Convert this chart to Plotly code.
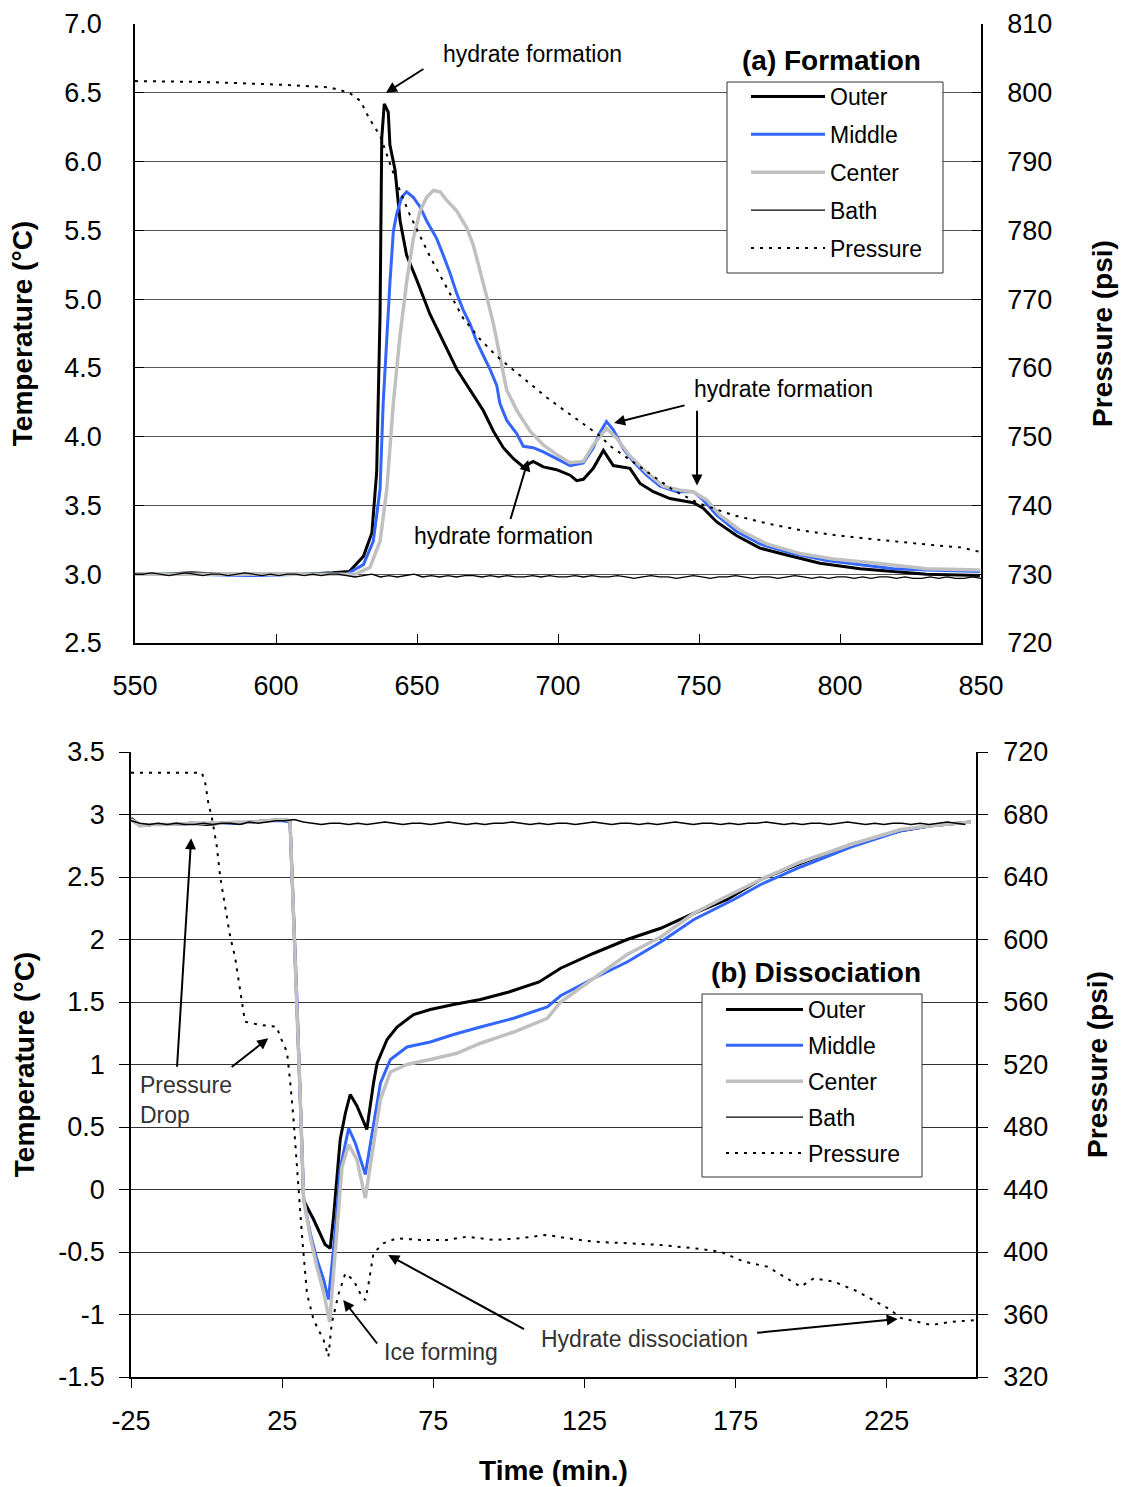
import plotly.graph_objects as go

# ---------------- (a) Formation data ----------------
outer_top_time = [550, 560, 570, 580, 590, 600, 610, 620, 626, 631, 634, 635.7, 636.9, 637.5, 638.4,
                  639.8, 640.4, 642.2, 644, 646.3, 649.9, 654.6, 660.5, 664.1, 668.8, 673.5, 677.1,
                  680.6, 684.2, 687.7, 691.2, 694.8, 699.5, 704.3, 706.6, 709, 712.5, 716.1, 719.6,
                  725.5, 729.1, 733.8, 739.7, 748, 751.5, 756.3, 763.4, 771.6, 781.1, 792.9, 807.1,
                  818.9, 830.7, 849.6]
outer_top_temp = [3.0, 3.0, 3.01, 3.0, 3.0, 3.0, 3.0, 3.01, 3.02, 3.13, 3.30, 3.74, 4.89, 6.17, 6.42,
                  6.36, 6.12, 5.94, 5.57, 5.32, 5.14, 4.89, 4.64, 4.49, 4.34, 4.19, 4.04,
                  3.92, 3.84, 3.78, 3.82, 3.78, 3.76, 3.72, 3.68, 3.69, 3.77, 3.90, 3.79,
                  3.77, 3.66, 3.60, 3.55, 3.52, 3.48, 3.38, 3.28, 3.19, 3.14, 3.08, 3.04,
                  3.02, 3.0, 2.99]

middle_top_time = [550, 570, 590, 610, 625, 631, 634.5, 636.9, 638, 639.3, 640.4, 641.6, 642.8, 644.6,
                   646.3, 648.7, 651.1, 653.4, 657, 659.3, 661.7, 664.1, 666.4, 668.8, 671.2, 673.5,
                   675.9, 678.3, 679.4, 681.8, 685.4, 687.7, 691.2, 694.8, 699.5, 704.3, 709, 712.5,
                   714.9, 717.2, 719.6, 723.2, 726.7, 731.4, 736.2, 742.1, 748, 751.5, 756.3, 763.4,
                   771.6, 783.4, 795.3, 807.1, 818.9, 830.7, 849.6]
middle_top_temp = [3.0, 3.0, 2.99, 3.0, 3.0, 3.07, 3.24, 3.62, 4.24, 4.74, 5.12, 5.49, 5.62, 5.74,
                   5.78, 5.74, 5.67, 5.57, 5.44, 5.32, 5.19, 5.04, 4.92, 4.82, 4.69, 4.59,
                   4.49, 4.37, 4.24, 4.12, 4.02, 3.93, 3.92, 3.89, 3.84, 3.79, 3.81, 3.92,
                   4.03, 4.11, 4.05, 3.91, 3.82, 3.72, 3.64, 3.60, 3.60, 3.54, 3.43, 3.31,
                   3.22, 3.15, 3.10, 3.07, 3.04, 3.03, 3.02]

center_top_time = [550, 570, 590, 610, 628, 633.3, 636.9, 639.3, 641.6, 644, 646.3, 648.7, 651.1, 653.4,
                   655.8, 658.2, 660.5, 664.1, 667.6, 670, 672.3, 674.7, 677.1, 679.4, 681.8, 685.4,
                   690.1, 694.8, 699.5, 704.3, 709, 712.5, 716.1, 717.2, 720.8, 725.5, 731.4, 737.3,
                   743.3, 748, 752.7, 757.4, 764.5, 774, 785.8, 797.6, 813, 830.7, 849.6]
center_top_temp = [3.0, 3.0, 3.0, 3.0, 3.0, 3.05, 3.24, 3.62, 4.24, 4.74, 5.12, 5.44, 5.64, 5.74,
                   5.79, 5.78, 5.72, 5.64, 5.52, 5.39, 5.22, 5.02, 4.82, 4.59, 4.34, 4.19,
                   4.04, 3.94, 3.87, 3.81, 3.82, 3.94, 4.04, 4.06, 3.99, 3.86, 3.74, 3.64,
                   3.61, 3.60, 3.54, 3.43, 3.32, 3.22, 3.15, 3.11, 3.08, 3.04, 3.03]

bath_top_temp = [3.00, 3.00, 3.01, 3.00, 2.99, 3.00, 3.01, 3.00, 2.99, 3.00, 3.00, 2.99, 3.00, 3.01,
                 3.00, 2.99, 3.00, 2.99, 3.00, 3.00, 2.99, 3.00, 2.99, 3.00, 3.00, 2.99, 2.98, 2.99,
                 3.00, 2.98, 2.99, 2.98, 2.99, 3.00, 2.98, 2.99, 2.98, 2.99, 2.98, 2.99, 2.99, 2.98,
                 2.99, 2.98, 2.99, 2.98, 2.98, 2.99, 2.98, 2.99, 2.98, 2.98, 2.99, 2.98, 2.99, 2.98,
                 2.98, 2.99, 2.98, 2.97, 2.98, 2.99, 2.98, 2.98, 2.97, 2.98, 2.99, 2.98, 2.97, 2.98,
                 2.98, 2.99, 2.98, 2.97, 2.98, 2.98, 2.97, 2.98, 2.99, 2.98, 2.97, 2.98, 2.97, 2.98,
                 2.98, 2.97, 2.98, 2.97, 2.98, 2.98, 2.97, 2.98, 2.97, 2.97, 2.98, 2.97, 2.98, 2.97,
                 2.97, 2.98, 2.97]
bath_top_time = [550 + 3 * i for i in range(len(bath_top_temp))]

press_top_time = [550, 560, 570, 580, 590, 600, 610, 619, 626, 630, 633, 637, 640.4, 644, 647.5, 651,
                  654.6, 660.5, 666.4, 672.3, 678.3, 684.2, 690, 696, 702, 708, 714, 719, 724, 734,
                  741, 750, 762, 774, 786, 798, 809, 821, 834, 843, 850]
press_top_psi = [801.7, 801.7, 801.6, 801.5, 801.4, 801.2, 801.0, 800.8, 800.0, 798.8, 796.3, 793.7,
                 789.7, 785.7, 782.2, 779.2, 776.2, 771.7, 767.2, 764.2, 761.7, 759.7, 757.7, 755.7,
                 753.9, 752.2, 750.4, 748.5, 747.1, 744.2, 742.2, 740.3, 738.6, 737.4, 736.4, 735.7,
                 735.2, 734.7, 734.2, 733.9, 733.2]

# ---------------- (b) Dissociation data ----------------
outer_bot_time = [-25, -22, -18, -12, -5, 0, 5, 10, 15, 20, 22, 25, 27.6, 29.9, 31.0, 32.1, 32.6,
                  35.4, 37.6, 39.2, 40.9, 42.0, 44.2, 45.9, 47.5, 49.7, 52.5, 53.0, 55.2, 56.4, 59.7,
                  63.0, 68.5, 74.0, 81.7, 90.6, 100, 110, 117.1, 128.1, 139.1, 150.2, 161.2, 172.2,
                  183.3, 196.5, 213.1, 229.6, 239.6, 252.8]
outer_bot_temp = [2.97, 2.91, 2.92, 2.92, 2.93, 2.92, 2.93, 2.93, 2.94, 2.95, 2.96, 2.96, 2.95, 1.52,
                  0.72, -0.08, -0.11, -0.24, -0.35, -0.44, -0.47, -0.22, 0.40, 0.61, 0.76, 0.67,
                  0.51, 0.48, 0.85, 1.01, 1.20, 1.30, 1.40, 1.44, 1.48, 1.52, 1.58, 1.66, 1.77,
                  1.89, 2.00, 2.09, 2.21, 2.32, 2.48, 2.61, 2.76, 2.87, 2.91, 2.94]

middle_bot_time = [-25, -22, -18, -12, -5, 0, 5, 10, 15, 20, 25, 27.6, 29.9, 31.0, 32.1, 34.3, 36.5,
                   38.7, 40.3, 42.5, 44.2, 47.0, 49.2, 52.5, 55.2, 57.5, 60.8, 66.3, 74.0, 81.7,
                   90.6, 101.6, 112.7, 117.1, 128.1, 139.1, 150.2, 161.2, 174.4, 183.3, 196.5,
                   213.1, 229.6, 239.6, 252.8]
middle_bot_temp = [2.96, 2.91, 2.92, 2.92, 2.93, 2.93, 2.93, 2.93, 2.94, 2.95, 2.95, 2.94, 1.52,
                   0.72, -0.08, -0.35, -0.56, -0.72, -0.88, -0.35, 0.17, 0.49, 0.37, 0.12, 0.50,
                   0.85, 1.04, 1.14, 1.18, 1.24, 1.30, 1.37, 1.46, 1.55, 1.69, 1.82, 1.98, 2.16,
                   2.32, 2.44, 2.58, 2.74, 2.87, 2.91, 2.94]

center_bot_time = [-25, -22, -18, -12, -5, 0, 5, 10, 15, 20, 25, 27.6, 29.9, 31.0, 32.1, 34.3, 36.5,
                   38.7, 40.7, 43.1, 44.8, 47.0, 49.7, 52.5, 54.7, 57.5, 60.8, 66.3, 74.0, 82.8,
                   90.6, 101.6, 112.7, 117.1, 128.1, 139.1, 150.2, 161.2, 170.0, 183.3, 196.5,
                   213.1, 229.6, 239.6, 252.8]
center_bot_temp = [2.96, 2.91, 2.92, 2.92, 2.93, 2.93, 2.93, 2.94, 2.94, 2.95, 2.96, 2.95, 1.52,
                   0.72, -0.08, -0.38, -0.62, -0.82, -1.06, -0.35, 0.18, 0.36, 0.24, -0.07, 0.26,
                   0.72, 0.94, 1.00, 1.04, 1.09, 1.17, 1.26, 1.37, 1.50, 1.69, 1.88, 2.02, 2.21,
                   2.32, 2.48, 2.62, 2.76, 2.88, 2.91, 2.94]

bath_bot_temp = [2.95, 2.93, 2.92, 2.93, 2.92, 2.93, 2.92, 2.92, 2.93, 2.92, 2.93, 2.93, 2.92, 2.94,
                 2.93, 2.94, 2.95, 2.95, 2.96, 2.94, 2.93, 2.92, 2.93, 2.93, 2.92, 2.93, 2.92, 2.93,
                 2.94, 2.93, 2.92, 2.93, 2.93, 2.92, 2.93, 2.94, 2.93, 2.92, 2.93, 2.92, 2.93, 2.93,
                 2.94, 2.93, 2.92, 2.93, 2.92, 2.93, 2.93, 2.92, 2.93, 2.94, 2.93, 2.92, 2.93, 2.93,
                 2.92, 2.93, 2.92, 2.93, 2.94, 2.93, 2.92, 2.93, 2.93, 2.92, 2.93, 2.92, 2.93, 2.93,
                 2.94, 2.93, 2.92, 2.93, 2.92, 2.93, 2.93, 2.92, 2.93, 2.94, 2.93, 2.92, 2.93, 2.92,
                 2.93, 2.93, 2.92, 2.93, 2.92, 2.93, 2.94, 2.93, 2.92]
bath_bot_time = [-25 + 3 * i for i in range(len(bath_bot_temp))]

press_bot_time = [-25, -15, -5, -1.6, -0.5, 0.6, 1.7, 3.4, 4.5, 6.1, 7.8, 9.4, 10.5, 11.6, 12.7, 17.7,
                  23.2, 24.3, 25.5, 26.6, 27.6, 28.7, 29.9, 31.5, 33.2, 35.4, 38.7, 40.3, 41.4, 43.7,
                  45.9, 48.6, 51.4, 52.5, 53.6, 55.2, 58.5, 63.0, 70.7, 79.5, 86.1, 95.0, 103.8,
                  112.7, 119.3, 128.1, 139.1, 150.2, 161.2, 170.0, 177.8, 185.5, 196.5, 200.9,
                  207.5, 214.2, 218.6, 226.3, 229.6, 239.6, 246.2, 254.5]
press_bot_psi = [706.8, 706.8, 706.8, 706.8, 701.0, 687.0, 678.6, 659.4, 640.2, 621.0, 601.8, 589.0,
                 574.1, 559.2, 547.4, 545.3, 544.2, 538.0, 533.0, 528.0, 510.0, 486.6, 454.6, 412.0,
                 373.5, 356.5, 343.7, 333.0, 354.4, 373.5, 386.3, 382.0, 371.3, 369.3, 380.0, 399.2,
                 405.6, 408.8, 407.7, 407.7, 409.8, 407.7, 408.8, 411.0, 408.8, 406.6, 405.6, 404.5,
                 402.4, 400.2, 393.8, 390.6, 377.8, 383.2, 381.0, 375.7, 371.3, 362.9, 357.8, 353.3,
                 355.2, 356.5]

series_names = ["Outer", "Middle", "Center", "Bath", "Pressure"]
top_ticks = [550, 600, 650, 700, 750, 800, 850]
bot_ticks = [-25, 25, 75, 125, 175, 225]
bot_tick_text = ["-25", "25", "75", "125", "175", "225"]
bot_temp_ticks = [3.5, 3.0, 2.5, 2.0, 1.5, 1.0, 0.5, 0.0, -0.5, -1.0, -1.5]
bot_temp_text = ["3.5", "3", "2.5", "2", "1.5", "1", "0.5", "0", "-0.5", "-1", "-1.5"]

# ---------------- styles ----------------
W, H = 1122, 1487
FONT = "Liberation Sans, Arial, sans-serif"
BLACK = "#000000"
BLUE = "#3366ff"
GRAY = "#c0c0c0"
styles = {
    "Outer": dict(color=BLACK, width=3),
    "Middle": dict(color=BLUE, width=3),
    "Center": dict(color=GRAY, width=3.5),
    "Bath": dict(color=BLACK, width=1.3),
    "Pressure": dict(color=BLACK, width=2, dash="3px,6px"),
}

fig = go.Figure()

top_sets = [
    ("Outer", outer_top_time, outer_top_temp, "y"),
    ("Middle", middle_top_time, middle_top_temp, "y"),
    ("Center", center_top_time, center_top_temp, "y"),
    ("Bath", bath_top_time, bath_top_temp, "y"),
    ("Pressure", press_top_time, press_top_psi, "y2"),
]
for name, xs, ys, yax in top_sets:
    fig.add_trace(go.Scatter(x=xs, y=ys, name=name, mode="lines", line=styles[name],
                             xaxis="x", yaxis=yax, legend="legend", legendgroup="a" + name))

bot_sets = [
    ("Outer", outer_bot_time, outer_bot_temp, "y3"),
    ("Middle", middle_bot_time, middle_bot_temp, "y3"),
    ("Center", center_bot_time, center_bot_temp, "y3"),
    ("Bath", bath_bot_time, bath_bot_temp, "y3"),
    ("Pressure", press_bot_time, press_bot_psi, "y4"),
]
for name, xs, ys, yax in bot_sets:
    fig.add_trace(go.Scatter(x=xs, y=ys, name=name, mode="lines", line=styles[name],
                             xaxis="x2", yaxis=yax, legend="legend2", legendgroup="b" + name))

tickfont = dict(family=FONT, size=27, color="black")
titlefont = dict(family=FONT, size=28, color="black", weight="bold")
axis_common = dict(showline=True, linecolor="black", linewidth=1.5, tickcolor="black",
                   tickfont=tickfont, zeroline=False, automargin=False)

top_dom_y = [1 - 643 / H, 1 - 24 / H]
bot_dom_y = [1 - 1377 / H, 1 - 752 / H]

fig.update_layout(
    width=W, height=H,
    margin=dict(l=0, r=0, t=0, b=0),
    paper_bgcolor="white", plot_bgcolor="white",
    font=dict(family=FONT, color="black"),
    xaxis=dict(domain=[135 / W, 981 / W], anchor="y", range=[550, 850], tickvals=top_ticks,
               ticks="inside", ticklen=9, showgrid=False, ticklabelstandoff=18, **axis_common),
    yaxis=dict(domain=top_dom_y, anchor="x", range=[2.5, 7.0], dtick=0.5, tickformat=".1f",
               ticks="inside", ticklen=9, showgrid=True, gridcolor="#555555", gridwidth=1,
               ticklabelstandoff=26,
               title=dict(text="Temperature (°C)", font=titlefont, standoff=24), **axis_common),
    yaxis2=dict(overlaying="y", side="right", anchor="x", range=[720, 810], dtick=10,
                ticks="inside", ticklen=9, showgrid=False, ticklabelstandoff=19,
                title=dict(text="Pressure (psi)", font=titlefont, standoff=41), **axis_common),
    xaxis2=dict(domain=[131 / W, 976 / W], anchor="y3", range=[-25, 254.5], tickvals=bot_ticks,
                ticktext=bot_tick_text, ticks="outside", ticklen=9, showgrid=False,
                ticklabelstandoff=10,
                title=dict(text="Time (min.)", font=titlefont, standoff=25), **axis_common),
    yaxis3=dict(domain=bot_dom_y, anchor="x2", range=[-1.5, 3.5], tickvals=bot_temp_ticks,
                ticktext=bot_temp_text, ticks="outside", ticklen=10, showgrid=True,
                gridcolor="#333333", gridwidth=1, ticklabelstandoff=9,
                title=dict(text="Temperature (°C)", font=titlefont, standoff=16), **axis_common),
    yaxis4=dict(overlaying="y3", side="right", anchor="x2", range=[320, 720], dtick=40,
                ticks="outside", ticklen=10, showgrid=False, ticklabelstandoff=10,
                title=dict(text="Pressure (psi)", font=titlefont, standoff=40), **axis_common),
    legend=dict(x=746 / W, y=1 - 75 / H, xanchor="left", yanchor="top",
                bgcolor="rgba(0,0,0,0)", borderwidth=0, font=dict(family=FONT, size=23),
                itemwidth=74, tracegroupgap=5, traceorder="grouped"),
    legend2=dict(x=721 / W, y=1 - 988 / H, xanchor="left", yanchor="top",
                 bgcolor="rgba(0,0,0,0)", borderwidth=0, font=dict(family=FONT, size=23),
                 itemwidth=77, tracegroupgap=3, traceorder="grouped"),
    showlegend=True,
)

# legend frames (white boxes with thin border, drawn under the legend items)
fig.update_layout(shapes=[
    dict(type="rect", xref="paper", yref="paper", x0=727 / W, x1=943 / W, y0=1 - 273 / H, y1=1 - 82 / H,
         fillcolor="white", line=dict(color="#333333", width=1), layer="above"),
    dict(type="rect", xref="paper", yref="paper", x0=702 / W, x1=922 / W, y0=1 - 1177 / H, y1=1 - 994 / H,
         fillcolor="white", line=dict(color="#333333", width=1), layer="above"),
])

ann_font = dict(family=FONT, size=23, color="black")
light_font = dict(family=FONT, size=23, color="#333333")


def arrow(xref, yref, head, tail):
    return dict(x=head[0], y=head[1], ax=tail[0], ay=tail[1], xref=xref, yref=yref,
                axref=xref, ayref=yref, text="", showarrow=True, arrowhead=2, arrowsize=1.1,
                arrowwidth=2, arrowcolor="black", standoff=0)


annotations = [
    # panel titles
    dict(x=831 / W, y=1 - 60 / H, xref="paper", yref="paper", text="<b>(a) Formation</b>",
         xanchor="center", yanchor="middle", showarrow=False,
         font=dict(family=FONT, size=28, color="black")),
    dict(x=816 / W, y=1 - 973 / H, xref="paper", yref="paper", text="<b>(b) Dissociation</b>",
         xanchor="center", yanchor="middle", showarrow=False,
         font=dict(family=FONT, size=28, color="black")),
    # top texts
    dict(x=690.8, y=6.78, xref="x", yref="y", text="hydrate formation", showarrow=False, font=ann_font),
    dict(x=779.8, y=4.35, xref="x", yref="y", text="hydrate formation", showarrow=False, font=ann_font),
    dict(x=680.5, y=3.28, xref="x", yref="y", text="hydrate formation", showarrow=False, font=ann_font),
    arrow("x", "y", (639.0, 6.50), (652.8, 6.68)),
    arrow("x", "y", (719.9, 4.10), (745.4, 4.23)),
    arrow("x", "y", (749.3, 3.645), (749.3, 4.20)),
    arrow("x", "y", (689.4, 3.83), (683.0, 3.39)),
    # bottom texts
    dict(x=-22.7, y=0.716, xref="x2", yref="y3", text="Pressure<br>Drop", showarrow=False,
         xanchor="left", align="left", font=light_font),
    dict(x=77.6, y=-1.30, xref="x2", yref="y3", text="Ice forming", showarrow=False, font=light_font),
    dict(x=144.9, y=-1.196, xref="x2", yref="y3", text="Hydrate dissociation", showarrow=False,
         font=light_font),
    arrow("x2", "y3", (-5.1, 2.81), (-9.8, 0.97)),
    arrow("x2", "y3", (20.4, 1.21), (7.8, 0.97)),
    arrow("x2", "y3", (45.2, -0.884), (56.8, -1.244)),
    arrow("x2", "y3", (60.1, -0.524), (105.5, -1.124)),
    arrow("x2", "y3", (228.6, -1.036), (181.6, -1.148)),
]
fig.update_layout(annotations=annotations)

fig.write_html("out.html")
